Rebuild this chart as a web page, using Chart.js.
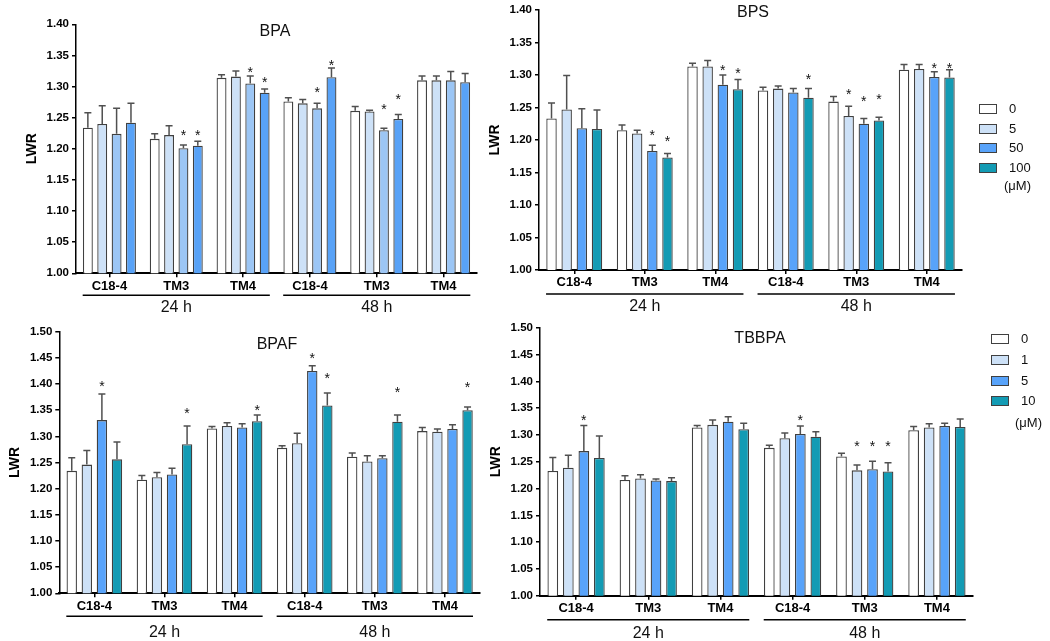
<!DOCTYPE html>
<html><head><meta charset="utf-8">
<script src="https://cdn.jsdelivr.net/npm/chart.js@4.4.1/dist/chart.umd.min.js"></script>
<style>
html,body{margin:0;padding:0;background:#fff;}
body{width:1050px;height:641px;position:relative;overflow:hidden;font-family:"Liberation Sans",Arial,sans-serif;}
.pane{position:absolute;}
.lg{position:absolute;font-size:13px;color:#111;line-height:14px;white-space:nowrap;}
.bx{position:absolute;box-sizing:border-box;border:1.5px solid #404040;}
</style>
</head><body>
<script>
// ---------- data ----------
const categories = ['C18-4','TM3','TM4','C18-4','TM3','TM4'];
const timeLabels = ['24 h','48 h'];
const panelTitles = ['BPA','BPS','BPAF','TBBPA'];
const yMaxima = [1.40, 1.40, 1.50, 1.50];
const bpsDoses = ['0','5','50','100'];
const tbbpaDoses = ['0','1','5','10'];
const doseUnit = '(\u03bcM)';

const bpaMeans = [
  [1.234, 1.216, 1.314, 1.276, 1.261, 1.310],
  [1.240, 1.222, 1.316, 1.273, 1.260, 1.310],
  [1.224, 1.201, 1.305, 1.265, 1.230, 1.310],
  [1.242, 1.205, 1.290, 1.315, 1.248, 1.307]
];
const bpaErrs = [
  [0.024, 0.008, 0.005, 0.006, 0.007, 0.007],
  [0.029, 0.015, 0.009, 0.006, 0.002, 0.007],
  [0.041, 0.005, 0.012, 0.008, 0.003, 0.014],
  [0.031, 0.007, 0.006, 0.015, 0.007, 0.014]
];
const bpaStars = [
  [null, null, null, null, null, null],
  [null, null, null, null, null, null],
  [null, 1.2265, 1.328, 1.296, 1.268, null],
  [null, 1.2265, 1.312, 1.339, 1.285, null]
];

const bpsMeans = [
  [1.233, 1.215, 1.313, 1.276, 1.259, 1.308],
  [1.247, 1.210, 1.313, 1.279, 1.237, 1.309],
  [1.218, 1.183, 1.285, 1.273, 1.225, 1.297],
  [1.217, 1.173, 1.278, 1.265, 1.230, 1.296]
];
const bpsErrs = [
  [0.024, 0.008, 0.005, 0.005, 0.008, 0.008],
  [0.052, 0.005, 0.009, 0.004, 0.015, 0.007],
  [0.030, 0.009, 0.015, 0.006, 0.008, 0.008],
  [0.029, 0.006, 0.015, 0.014, 0.005, 0.012]
];
const bpsStars = [
  [null, null, null, null, null, null],
  [null, null, null, null, 1.276, null],
  [null, 1.212, 1.312, null, 1.264, 1.315],
  [null, 1.203, 1.307, 1.298, 1.267, 1.315]
];

const bpafMeans = [
  [1.234, 1.217, 1.315, 1.278, 1.261, 1.310],
  [1.246, 1.222, 1.320, 1.287, 1.252, 1.309],
  [1.331, 1.227, 1.317, 1.425, 1.258, 1.314],
  [1.256, 1.285, 1.329, 1.359, 1.328, 1.350]
];
const bpafErrs = [
  [0.025, 0.008, 0.004, 0.004, 0.007, 0.007],
  [0.027, 0.009, 0.006, 0.019, 0.011, 0.005],
  [0.050, 0.012, 0.007, 0.010, 0.005, 0.008],
  [0.033, 0.035, 0.012, 0.024, 0.013, 0.006]
];
const bpafStars = [
  [null, null, null, null, null, null],
  [null, null, null, null, null, null],
  [1.401, null, null, 1.455, null, null],
  [null, 1.350, 1.357, 1.417, 1.390, 1.400]
];

const tbbpaMeans = [
  [1.233, 1.216, 1.314, 1.276, 1.260, 1.309],
  [1.239, 1.219, 1.319, 1.294, 1.234, 1.314],
  [1.270, 1.215, 1.325, 1.302, 1.236, 1.317],
  [1.257, 1.214, 1.311, 1.297, 1.232, 1.315]
];
const tbbpaErrs = [
  [0.025, 0.008, 0.004, 0.005, 0.006, 0.007],
  [0.023, 0.007, 0.009, 0.010, 0.010, 0.007],
  [0.048, 0.003, 0.009, 0.015, 0.015, 0.005],
  [0.041, 0.006, 0.011, 0.009, 0.016, 0.015]
];
const tbbpaStars = [
  [null, null, null, null, null, null],
  [null, null, null, null, 1.285, null],
  [1.3336, null, null, 1.3336, 1.285, null],
  [null, null, null, null, 1.285, null]
];

// ---------- styles ----------
const FONT = '"Liberation Sans", Arial, sans-serif';
const bpaColors = ['#ffffff', '#cde1f7', '#9cc6f5', '#58a2f7'];
const mainColors = ['#ffffff', '#cde1f7', '#58a3fa', '#139bb4'];

Chart.defaults.font.family = FONT;

const deco = {
  id: 'deco',
  afterDatasetsDraw(chart, args, o) {
    const ctx = chart.ctx, ys = chart.scales.y;
    ctx.save();
    chart.data.datasets.forEach((ds, i) => {
      const meta = chart.getDatasetMeta(i);
      meta.data.forEach((bar, j) => {
        const top = ys.getPixelForValue(ds.data[j] + ds.errs[j]);
        ctx.strokeStyle = '#505050';
        ctx.lineWidth = 1.5;
        ctx.beginPath();
        ctx.moveTo(bar.x, bar.y);
        ctx.lineTo(bar.x, top);
        ctx.moveTo(bar.x - 3.5, top);
        ctx.lineTo(bar.x + 3.5, top);
        ctx.stroke();
        if (ds.stars[j] != null) {
          ctx.fillStyle = '#111';
          ctx.font = '14px ' + FONT;
          ctx.textAlign = 'center';
          ctx.textBaseline = 'alphabetic';
          ctx.fillText('*', bar.x, ys.getPixelForValue(ds.stars[j]) + 8);
        }
      });
    });
    ctx.restore();
  },
  afterDraw(chart, args, o) {
    const ctx = chart.ctx, xs = chart.scales.x, a = chart.chartArea;
    ctx.save();
    // title
    ctx.fillStyle = '#111';
    ctx.font = '16px ' + FONT;
    ctx.textAlign = 'center';
    ctx.textBaseline = 'middle';
    ctx.fillText(o.title, o.tx, o.ty);
    // y title
    ctx.save();
    ctx.translate(a.left - 44, (a.top + a.bottom) / 2);
    ctx.rotate(-Math.PI / 2);
    ctx.font = 'bold 14px ' + FONT;
    ctx.fillStyle = '#000';
    ctx.fillText('LWR', 0, 0);
    ctx.restore();
    // brackets
    const cw = xs.getPixelForValue(1) - xs.getPixelForValue(0);
    timeLabels.forEach((t, g) => {
      const x0 = xs.getPixelForValue(g * 3) - cw * 0.4;
      const x1 = xs.getPixelForValue(g * 3 + 2) + cw * 0.4;
      const yb = a.bottom + o.bracketOff;
      ctx.strokeStyle = '#000';
      ctx.lineWidth = 1.5;
      ctx.beginPath();
      ctx.moveTo(x0, yb);
      ctx.lineTo(x1, yb);
      ctx.stroke();
      ctx.fillStyle = '#111';
      ctx.font = '16px ' + FONT;
      ctx.textAlign = 'center';
      ctx.textBaseline = 'middle';
      ctx.fillText(t, (x0 + x1) / 2, a.bottom + o.labelOff);
    });
    ctx.restore();
  }
};

const panels = [
  {idx: 0, means: bpaMeans, errs: bpaErrs, stars: bpaStars, colors: bpaColors, doses: bpsDoses,
   box: {left: 0, top: 0, w: 485, h: 318}, area: {left: 76, top: 24.3, right: 477, bottom: 273.3},
   titleXY: [275, 32], bracketOff: 22, labelOff: 34},
  {idx: 1, means: bpsMeans, errs: bpsErrs, stars: bpsStars, colors: mainColors, doses: bpsDoses,
   box: {left: 485, top: 0, w: 565, h: 318}, area: {left: 539, top: 9.3, right: 962, bottom: 270},
   titleXY: [753, 13], bracketOff: 24, labelOff: 37},
  {idx: 2, means: bpafMeans, errs: bpafErrs, stars: bpafStars, colors: mainColors, doses: tbbpaDoses,
   box: {left: 0, top: 318, w: 485, h: 323}, area: {left: 59.3, top: 331.7, right: 480, bottom: 593.3},
   titleXY: [277, 345], bracketOff: 23, labelOff: 39},
  {idx: 3, means: tbbpaMeans, errs: tbbpaErrs, stars: tbbpaStars, colors: mainColors, doses: tbbpaDoses,
   box: {left: 485, top: 318, w: 565, h: 323}, area: {left: 540, top: 327.3, right: 973, bottom: 595.7},
   titleXY: [760, 339], bracketOff: 24, labelOff: 37.5}
];

const YW = 50, XH = 30;

panels.forEach(p => {
  const div = document.createElement('div');
  div.className = 'pane';
  Object.assign(div.style, {left: p.box.left + 'px', top: p.box.top + 'px', width: p.box.w + 'px', height: p.box.h + 'px'});
  const cv = document.createElement('canvas');
  cv.width = p.box.w; cv.height = p.box.h;
  cv.style.width = p.box.w + 'px'; cv.style.height = p.box.h + 'px';
  div.appendChild(cv);
  document.body.appendChild(div);
  const pad = {
    left: p.area.left - p.box.left - YW,
    top: p.area.top - p.box.top,
    right: p.box.left + p.box.w - p.area.right,
    bottom: p.box.top + p.box.h - p.area.bottom - XH
  };
  new Chart(cv, {
    type: 'bar',
    data: {
      labels: categories,
      datasets: p.means.map((m, i) => ({
        label: p.doses[i], data: m, errs: p.errs[i], stars: p.stars[i],
        backgroundColor: p.colors[i], borderColor: '#404040', borderWidth: 1.3,
        categoryPercentage: 0.86, barPercentage: 0.69
      }))
    },
    options: {
      responsive: false, animation: false, devicePixelRatio: 1,
      layout: {padding: pad},
      plugins: {
        legend: {display: false}, tooltip: {enabled: false}, title: {display: false},
        deco: {title: panelTitles[p.idx], tx: p.titleXY[0] - p.box.left, ty: p.titleXY[1] - p.box.top,
               bracketOff: p.bracketOff, labelOff: p.labelOff}
      },
      scales: {
        x: {
          offset: true,
          grid: {display: true, drawOnChartArea: false, offset: false, tickLength: 4, color: '#000', lineWidth: 1.5},
          border: {display: true, color: '#000', width: 2},
          ticks: {color: '#000', font: {size: 13, weight: 'bold'}, padding: 1, maxRotation: 0, autoSkip: false},
          afterFit(s) { s.height = XH; }
        },
        y: {
          min: 1, max: yMaxima[p.idx],
          ticks: {stepSize: 0.05, color: '#000', font: {size: 11.5, weight: 'bold'}, padding: 3,
                  callback: v => Number(v).toFixed(2)},
          grid: {display: true, drawOnChartArea: false, tickLength: 4, color: '#000', lineWidth: 1.5},
          border: {display: true, color: '#000', width: 1.5},
          afterFit(s) { s.width = YW; }
        }
      }
    },
    plugins: [deco]
  });
});

// ---------- legends ----------
function legend(doses, colors, boxLeft, rowsY, labelX, unitXY) {
  doses.forEach((d, i) => {
    const b = document.createElement('div');
    b.className = 'bx';
    Object.assign(b.style, {left: boxLeft + 'px', top: (rowsY[i] - 5) + 'px', width: '18px', height: '10px', background: colors[i]});
    document.body.appendChild(b);
    const t = document.createElement('div');
    t.className = 'lg';
    t.textContent = d;
    Object.assign(t.style, {left: labelX + 'px', top: (rowsY[i] - 7) + 'px'});
    document.body.appendChild(t);
  });
  const u = document.createElement('div');
  u.className = 'lg';
  u.textContent = doseUnit;
  Object.assign(u.style, {left: unitXY[0] + 'px', top: (unitXY[1] - 7) + 'px'});
  document.body.appendChild(u);
}
legend(bpsDoses, mainColors, 979, [108.5, 128.5, 148, 167.5], 1009, [1004, 186]);
legend(tbbpaDoses, mainColors, 991, [339, 360, 381, 401], 1021, [1015, 423]);
</script>
</body></html>
